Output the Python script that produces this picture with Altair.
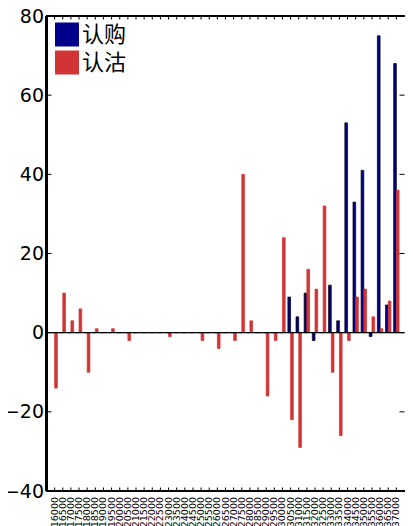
import altair as alt
import pandas as pd

strikes = ["16000", "16500", "17000", "17500", "18000", "18500", "19000", "19500",
           "20000", "20500", "21000", "21500", "22000", "22500", "23000", "23500",
           "24000", "24500", "25000", "25500", "26000", "26500", "27000", "27500",
           "28000", "28500", "29000", "29500", "30000", "30500", "31000", "31500",
           "32000", "32500", "33000", "33500", "34000", "34500", "35000", "35500",
           "36000", "36500", "37000"]

call_values = [0, 0, 0, 0, 0, 0, 0, 0, 0, 0,
               0, 0, 0, 0, 0, 0, 0, 0, 0, 0,
               0, 0, 0, 0, 0, 0, 0, 0, 0, 9,
               4, 10, -2, 0, 12, 3, 53, 33, 41, -1,
               75, 7, 68]

put_values = [-14, 10, 3, 6, -10, 1, 0, 1, 0, -2,
              0, 0, 0, 0, -1, 0, 0, 0, -2, 0,
              -4, 0, -2, 40, 3, 0, -16, -2, 24, -22,
              -29, 16, 11, 32, -10, -26, -2, 9, 11, 4,
              1, 8, 36]

series_names = ["认购", "认沽"]
series_colors = ["#00008B", "#D13434"]
series_strokes = ["#000000", "#D13434"]
y_ticks = [80, 60, 40, 20, 0, -20, -40]

W = 358
H = 475

rows = []
for s, c, p in zip(strikes, call_values, put_values):
    rows.append({"strike": s, "type": series_names[0], "value": c})
    rows.append({"strike": s, "type": series_names[1], "value": p})
df = pd.DataFrame(rows)

xscale = alt.Scale(domain=strikes, paddingInner=0, paddingOuter=0.5)
yscale = alt.Scale(domain=[-40, 80], nice=False, zero=False)

xaxis = alt.Axis(labelAngle=-90, labelFont="DejaVu Sans", labelFontSize=9.5,
                 labelColor="black", ticks=False, domain=False, grid=False,
                 labelPadding=5.5, labelOverlap=False)
yaxis = alt.Axis(values=y_ticks, labelFont="DejaVu Sans", labelFontSize=19,
                 labelColor="black", ticks=False, domain=False, grid=False,
                 labelPadding=3)

bars = alt.Chart(df).mark_bar(strokeWidth=0.7).encode(
    x=alt.X("strike:N", sort=strikes, scale=xscale, title=None, axis=xaxis),
    xOffset=alt.XOffset("type:N", sort=series_names,
                        scale=alt.Scale(domain=series_names, paddingInner=0, paddingOuter=0.5)),
    y=alt.Y("value:Q", scale=yscale, title=None, axis=yaxis),
    color=alt.Color("type:N", sort=series_names,
                    scale=alt.Scale(domain=series_names, range=series_colors),
                    legend=alt.Legend(title=None, orient="none", legendX=8.5, legendY=6.5,
                                      symbolType="square", symbolSize=576,
                                      symbolStrokeWidth=0, labelFont="Noto Sans CJK SC",
                                      labelFontSize=22, labelColor="black",
                                      rowPadding=4, labelOffset=3, padding=0)),
    stroke=alt.Stroke("type:N", sort=series_names,
                      scale=alt.Scale(domain=series_names, range=series_strokes),
                      legend=None),
)

zero_line = alt.Chart(pd.DataFrame({"value": [0]})).mark_rule(
    color="black", strokeWidth=1.3
).encode(y=alt.Y("value:Q", scale=yscale, title=None, axis=yaxis))

tick_df = pd.DataFrame({"value": y_ticks})
left_ticks = alt.Chart(tick_df).mark_rule(color="black", strokeWidth=1).encode(
    y=alt.Y("value:Q", scale=yscale, title=None, axis=yaxis), x=alt.value(0), x2=alt.value(5))
right_ticks = alt.Chart(tick_df).mark_rule(color="black", strokeWidth=1).encode(
    y=alt.Y("value:Q", scale=yscale, title=None, axis=yaxis), x=alt.value(W - 5), x2=alt.value(W))

cat_df = pd.DataFrame({"strike": strikes})
top_ticks = alt.Chart(cat_df).mark_rule(color="black", strokeWidth=1).encode(
    x=alt.X("strike:N", sort=strikes, scale=xscale, title=None, axis=xaxis),
    y=alt.value(0), y2=alt.value(3.5))
bottom_ticks = alt.Chart(cat_df).mark_rule(color="black", strokeWidth=1).encode(
    x=alt.X("strike:N", sort=strikes, scale=xscale, title=None, axis=xaxis),
    y=alt.value(H - 3.5), y2=alt.value(H))

frame_left = alt.Chart(cat_df).mark_rule(color="black", strokeWidth=2).encode(
    x=alt.value(0), y=alt.value(0), y2=alt.value(H))
frame_top = alt.Chart(cat_df).mark_rule(color="black", strokeWidth=1.5).encode(
    x=alt.value(0), x2=alt.value(W), y=alt.value(0))
frame_bottom = alt.Chart(cat_df).mark_rule(color="black", strokeWidth=1.5).encode(
    x=alt.value(0), x2=alt.value(W), y=alt.value(H))

chart = alt.layer(bars, zero_line, left_ticks, right_ticks, top_ticks, bottom_ticks,
                  frame_left, frame_top, frame_bottom).properties(
    width=W, height=H,
    autosize=alt.AutoSizeParams(type="none"),
    padding={"left": 38.5, "top": 8, "right": 0, "bottom": 35},
).configure_view(strokeWidth=0)

chart.save("out.html", embed_options={"renderer": "svg", "actions": False})
